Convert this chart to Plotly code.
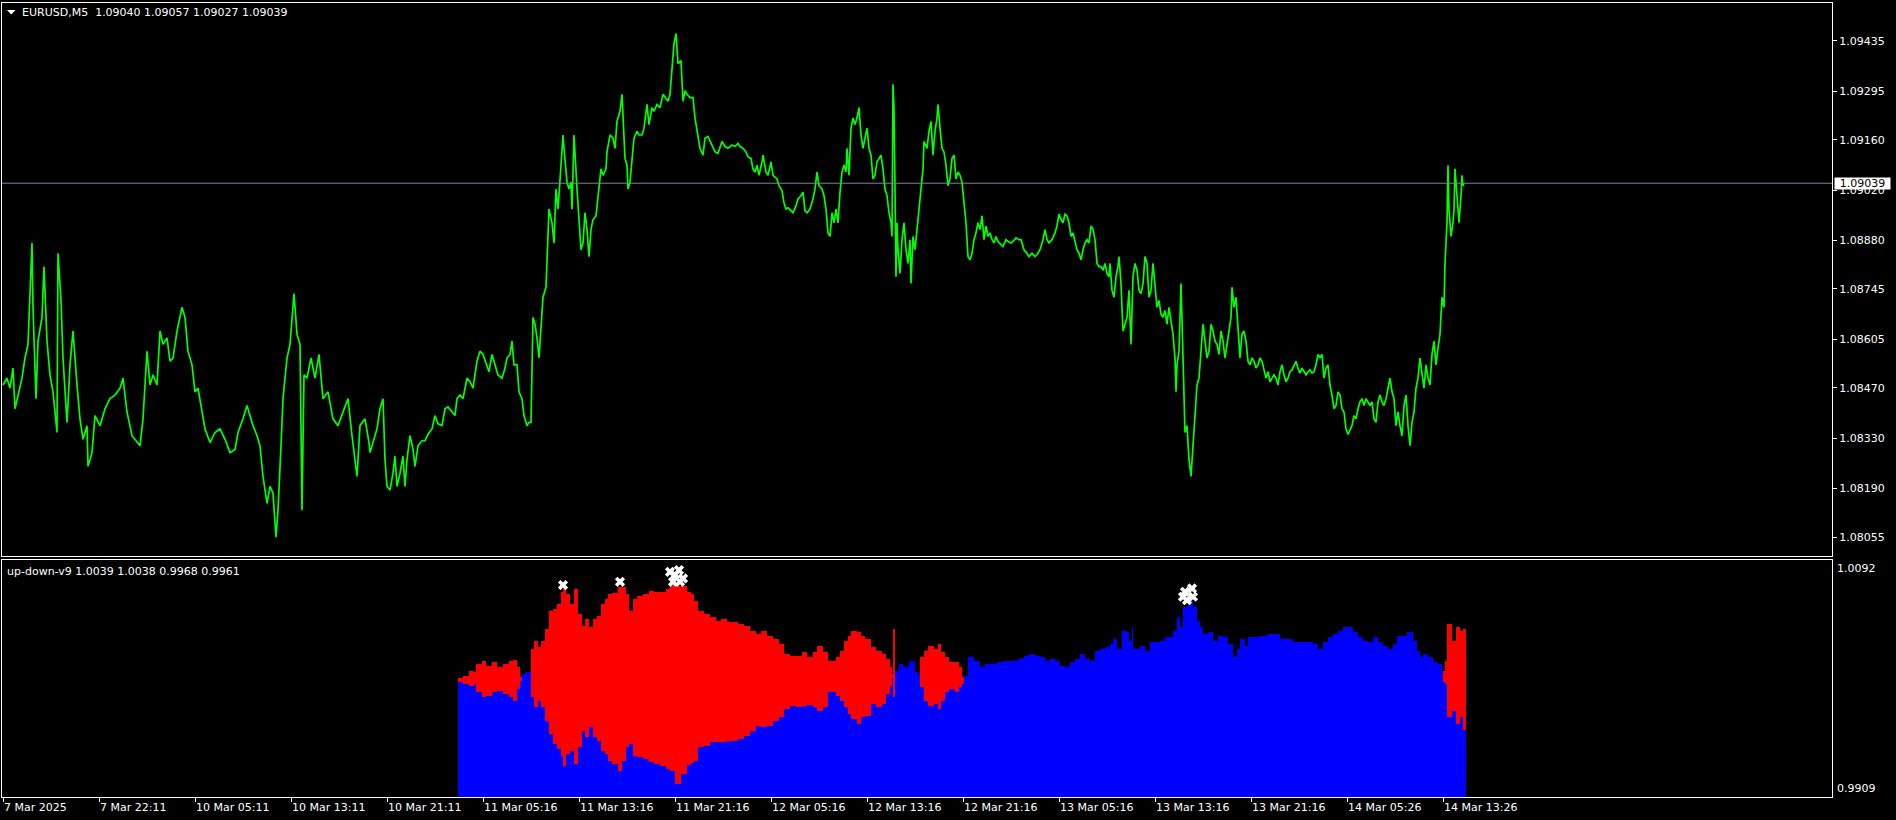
import plotly.graph_objects as go

# ---------------- main panel: EURUSD M5 close line (bar index -> close) ----------------
idx_a = [0, 4, 7, 10, 12, 15, 19, 22, 25, 29,
         30, 33, 35, 39, 41, 44, 47, 50, 54, 55,
         58, 60, 64, 67, 70, 74, 77, 80, 84, 85,
         89, 92, 97, 102, 107, 112, 117, 120, 124, 129,
         134, 137, 140, 144, 147, 150, 154, 157, 160, 164,
         167, 170, 174, 179, 182, 185, 189, 192, 195, 199,
         202, 207, 212, 217, 222, 227, 232, 235, 240, 244,
         247, 250, 254, 257, 260, 264, 267, 270, 273, 275,
         278, 280, 284, 287, 291, 294, 297, 299, 301, 304,
         308, 312, 316, 320, 325, 330, 335, 340, 345, 349,
         354, 357, 362, 366]
close_a = [1.08478, 1.08497, 1.08469, 1.08525, 1.08412, 1.08450, 1.08497, 1.08553, 1.08591, 1.08873,
           1.08694, 1.08440, 1.08600, 1.08666, 1.08807, 1.08600, 1.08506, 1.08459, 1.08346, 1.08844,
           1.08713, 1.08553, 1.08374, 1.08534, 1.08628, 1.08478, 1.08384, 1.08327, 1.08365, 1.08252,
           1.08290, 1.08393, 1.08365, 1.08412, 1.08440, 1.08450, 1.08469, 1.08497, 1.08403, 1.08337,
           1.08318, 1.08309, 1.08384, 1.08572, 1.08478, 1.08506, 1.08478, 1.08628, 1.08591, 1.08609,
           1.08544, 1.08553, 1.08628, 1.08694, 1.08666, 1.08572, 1.08534, 1.08459, 1.08469, 1.08403,
           1.08356, 1.08318, 1.08346, 1.08356, 1.08327, 1.08290, 1.08299, 1.08346, 1.08384, 1.08421,
           1.08393, 1.08365, 1.08337, 1.08309, 1.08224, 1.08149, 1.08196, 1.08177, 1.08055, 1.08130,
           1.08309, 1.08440, 1.08553, 1.08591, 1.08732, 1.08619, 1.08591, 1.08130, 1.08506, 1.08497,
           1.08553, 1.08497, 1.08563, 1.08440, 1.08459, 1.08384, 1.08365, 1.08403, 1.08440, 1.08337,
           1.08224, 1.08365, 1.08384, 1.08318]

idx_b = [367, 370, 374, 377, 380, 382, 384, 387, 390, 392,
         394, 397, 400, 402, 404, 407, 410, 412, 415, 419,
         422, 425, 429, 432, 435, 439, 442, 445, 449, 452,
         454, 457, 460, 464, 467, 470, 474, 477, 480, 484,
         486, 489, 492, 495, 499, 502, 504, 507, 509, 511,
         514, 516, 519, 521, 524, 526, 528, 529, 530, 532,
         534, 536, 539, 540, 543, 544, 546, 549, 551, 553,
         555, 558, 560, 561, 564, 566, 568, 569, 571, 574,
         576, 578, 580, 582, 584, 586, 588, 590, 593, 595,
         598, 600, 603, 604, 607, 610, 612, 614, 617, 619,
         620, 622, 624, 625, 627, 629, 631, 634, 636, 639,
         641, 644, 646, 649, 651, 654, 657, 660, 662, 665,
         667, 669, 671, 673, 675, 678, 680, 682, 684, 687,
         690, 692, 694, 697, 700, 702, 705, 709, 712, 715,
         719, 722, 725, 729, 732, 735]
close_b = [1.08290, 1.08318, 1.08356, 1.08412, 1.08440, 1.08271, 1.08196, 1.08186, 1.08233, 1.08280,
           1.08196, 1.08233, 1.08280, 1.08196, 1.08271, 1.08337, 1.08299, 1.08252, 1.08309, 1.08323,
           1.08323, 1.08341, 1.08356, 1.08393, 1.08370, 1.08365, 1.08412, 1.08417, 1.08403, 1.08393,
           1.08440, 1.08450, 1.08440, 1.08497, 1.08487, 1.08469, 1.08544, 1.08572, 1.08563, 1.08534,
           1.08515, 1.08563, 1.08534, 1.08506, 1.08497, 1.08525, 1.08553, 1.08563, 1.08600, 1.08534,
           1.08534, 1.08459, 1.08440, 1.08393, 1.08365, 1.08374, 1.08374, 1.08591, 1.08666, 1.08647,
           1.08609, 1.08553, 1.08675, 1.08722, 1.08750, 1.08835, 1.08967, 1.08929, 1.08873, 1.09023,
           1.08967, 1.09089, 1.09173, 1.09136, 1.09042, 1.09023, 1.09042, 1.08967, 1.09173, 1.09023,
           1.08929, 1.08854, 1.08873, 1.08957, 1.08910, 1.08835, 1.08910, 1.08938, 1.08948, 1.08995,
           1.09079, 1.09061, 1.09079, 1.09126, 1.09173, 1.09164, 1.09136, 1.09211, 1.09239, 1.09286,
           1.09211, 1.09108, 1.09089, 1.09023, 1.09042, 1.09098, 1.09164, 1.09183, 1.09173, 1.09173,
           1.09192, 1.09258, 1.09202, 1.09249, 1.09239, 1.09258, 1.09249, 1.09286, 1.09277, 1.09267,
           1.09286, 1.09352, 1.09427, 1.09455, 1.09371, 1.09380, 1.09267, 1.09296, 1.09286, 1.09277,
           1.09277, 1.09220, 1.09183, 1.09136, 1.09117, 1.09164, 1.09169, 1.09145, 1.09126, 1.09122,
           1.09155, 1.09141, 1.09136, 1.09145, 1.09141, 1.09150]

idx_c = [737, 740, 743, 745, 748, 750, 752, 754, 756, 759,
         760, 763, 765, 768, 770, 772, 774, 776, 779, 781,
         783, 785, 788, 790, 793, 795, 798, 800, 802, 804,
         807, 810, 812, 814, 816, 819, 821, 823, 825, 827,
         829, 831, 833, 835, 837, 839, 841, 843, 844, 846,
         848, 850, 852, 854, 856, 858, 860, 862, 864, 866,
         868, 870, 872, 874, 876, 878, 880, 882, 884, 886,
         888, 889, 890, 891, 892, 893, 894, 895, 897, 899,
         901, 903, 905, 907, 908, 910, 912, 914, 916, 918,
         920, 921, 924, 926, 928, 930, 932, 934, 935, 937,
         939, 941, 943, 945, 947, 949, 951, 953, 955, 957,
         959, 961, 963, 965, 967, 969, 971, 973, 975, 977,
         979, 981, 983, 985, 987, 989, 991, 993, 995, 998,
         1000, 1003, 1005, 1008, 1010, 1013, 1016, 1018, 1021, 1024,
         1026, 1029, 1032, 1034, 1037, 1040, 1042, 1044, 1046, 1049,
         1052, 1054, 1056, 1058, 1060, 1062, 1064, 1066, 1068, 1070,
         1072, 1074, 1076, 1078, 1080, 1082, 1084, 1086, 1088, 1090,
         1092, 1094, 1096, 1098, 1100, 1102, 1104, 1106]
close_c = [1.09141, 1.09136, 1.09126, 1.09112, 1.09108, 1.09079, 1.09070, 1.09089, 1.09061, 1.09098,
           1.09117, 1.09070, 1.09061, 1.09098, 1.09061, 1.09056, 1.09051, 1.09032, 1.09018, 1.08985,
           1.08967, 1.08971, 1.08962, 1.08957, 1.08976, 1.08995, 1.09004, 1.09014, 1.08962, 1.08957,
           1.08967, 1.08995, 1.09023, 1.09070, 1.09032, 1.09023, 1.09004, 1.08967, 1.08901, 1.08891,
           1.08957, 1.08929, 1.08967, 1.08929, 1.09014, 1.09070, 1.09089, 1.09070, 1.09136, 1.09061,
           1.09192, 1.09220, 1.09202, 1.09220, 1.09249, 1.09173, 1.09136, 1.09164, 1.09192, 1.09136,
           1.09117, 1.09051, 1.09061, 1.09098, 1.09108, 1.09117, 1.09079, 1.09023, 1.09004, 1.08957,
           1.08929, 1.08891, 1.09314, 1.09249, 1.09023, 1.08779, 1.08929, 1.08854, 1.08788, 1.08882,
           1.08929, 1.08854, 1.08816, 1.08882, 1.08760, 1.08891, 1.08854, 1.08910, 1.08948, 1.09023,
           1.09079, 1.09155, 1.09136, 1.09183, 1.09211, 1.09117, 1.09183, 1.09220, 1.09258, 1.09192,
           1.09136, 1.09126, 1.09089, 1.09032, 1.09051, 1.09108, 1.09117, 1.09051, 1.09070, 1.09061,
           1.09042, 1.08985, 1.08929, 1.08835, 1.08826, 1.08844, 1.08882, 1.08901, 1.08929, 1.08910,
           1.08948, 1.08882, 1.08920, 1.08891, 1.08901, 1.08882, 1.08873, 1.08891, 1.08877, 1.08868,
           1.08863, 1.08882, 1.08877, 1.08873, 1.08877, 1.08887, 1.08882, 1.08882, 1.08854, 1.08844,
           1.08835, 1.08844, 1.08835, 1.08840, 1.08854, 1.08882, 1.08910, 1.08882, 1.08873, 1.08882,
           1.08901, 1.08920, 1.08953, 1.08938, 1.08929, 1.08953, 1.08948, 1.08929, 1.08891, 1.08901,
           1.08873, 1.08854, 1.08844, 1.08826, 1.08854, 1.08873, 1.08882, 1.08873, 1.08920, 1.08910,
           1.08882, 1.08816, 1.08807, 1.08807, 1.08797, 1.08816, 1.08788, 1.08779]

idx_d = [1107, 1109, 1111, 1113, 1115, 1116, 1118, 1120, 1122, 1124,
         1126, 1128, 1130, 1132, 1134, 1136, 1138, 1140, 1142, 1144,
         1146, 1148, 1150, 1152, 1154, 1156, 1158, 1160, 1162, 1164,
         1166, 1168, 1170, 1172, 1173, 1174, 1176, 1178, 1180, 1181,
         1182, 1184, 1186, 1188, 1190, 1192, 1194, 1196, 1198, 1200,
         1202, 1204, 1206, 1208, 1210, 1212, 1214, 1216, 1218, 1220,
         1222, 1224, 1226, 1228, 1229, 1231, 1233, 1235, 1237, 1239,
         1241, 1243, 1245, 1247, 1249, 1251, 1253, 1255, 1257, 1259,
         1261, 1263, 1265, 1267, 1269, 1271, 1273, 1275, 1277, 1279,
         1281, 1283, 1285, 1287, 1289, 1291, 1293, 1295, 1297, 1299,
         1301, 1303, 1305, 1307, 1309, 1311, 1313, 1315, 1317, 1319,
         1321, 1323, 1325, 1327, 1329, 1331, 1333, 1335, 1337, 1339,
         1341, 1343, 1345, 1347, 1349, 1351, 1353, 1355, 1357, 1359,
         1361, 1363, 1365, 1367, 1369, 1371, 1373, 1375, 1377, 1379,
         1381, 1383, 1385, 1387, 1389, 1391, 1393, 1395, 1397, 1399,
         1401, 1403, 1405, 1407, 1409, 1411, 1413, 1415, 1417, 1419,
         1421, 1423, 1425, 1427, 1429, 1431, 1433, 1435, 1437, 1439,
         1441, 1442, 1444, 1445, 1446, 1448, 1450, 1451, 1452, 1454,
         1455, 1456, 1458, 1459, 1460, 1461]
close_d = [1.08816, 1.08741, 1.08722, 1.08779, 1.08807, 1.08835, 1.08760, 1.08628, 1.08647, 1.08666,
           1.08741, 1.08591, 1.08779, 1.08816, 1.08797, 1.08741, 1.08732, 1.08760, 1.08835, 1.08816,
           1.08722, 1.08741, 1.08816, 1.08741, 1.08694, 1.08713, 1.08675, 1.08666, 1.08685, 1.08647,
           1.08694, 1.08656, 1.08619, 1.08553, 1.08459, 1.08534, 1.08572, 1.08760, 1.08553, 1.08412,
           1.08346, 1.08365, 1.08271, 1.08224, 1.08318, 1.08393, 1.08478, 1.08497, 1.08572, 1.08647,
           1.08600, 1.08553, 1.08572, 1.08647, 1.08628, 1.08600, 1.08591, 1.08563, 1.08628, 1.08600,
           1.08553, 1.08591, 1.08638, 1.08666, 1.08750, 1.08694, 1.08722, 1.08638, 1.08553, 1.08619,
           1.08628, 1.08600, 1.08544, 1.08534, 1.08553, 1.08544, 1.08525, 1.08534, 1.08553, 1.08544,
           1.08515, 1.08497, 1.08515, 1.08487, 1.08497, 1.08506, 1.08497, 1.08478, 1.08515, 1.08534,
           1.08506, 1.08487, 1.08497, 1.08515, 1.08520, 1.08534, 1.08544, 1.08525, 1.08511, 1.08525,
           1.08515, 1.08506, 1.08515, 1.08520, 1.08511, 1.08515, 1.08534, 1.08563, 1.08553, 1.08563,
           1.08497, 1.08525, 1.08534, 1.08478, 1.08450, 1.08412, 1.08421, 1.08459, 1.08450, 1.08412,
           1.08403, 1.08356, 1.08341, 1.08356, 1.08365, 1.08393, 1.08384, 1.08412, 1.08431, 1.08440,
           1.08421, 1.08440, 1.08431, 1.08421, 1.08431, 1.08384, 1.08374, 1.08431, 1.08450, 1.08431,
           1.08421, 1.08440, 1.08469, 1.08497, 1.08459, 1.08440, 1.08365, 1.08403, 1.08365, 1.08337,
           1.08421, 1.08450, 1.08365, 1.08309, 1.08374, 1.08403, 1.08469, 1.08497, 1.08553, 1.08515,
           1.08469, 1.08534, 1.08497, 1.08478, 1.08563, 1.08600, 1.08534, 1.08581, 1.08619, 1.08722,
           1.08694, 1.08816, 1.08929, 1.09089, 1.08967, 1.08891, 1.08929, 1.08967, 1.09079, 1.09004,
           1.08967, 1.08929, 1.09004, 1.09061, 1.09032, 1.09039]

# ---------------- indicator panel: up-down-v9 ----------------
red1_idx = [455, 460, 466, 471, 473, 479, 483, 489, 494, 500, 506, 510, 514, 517]
red1_hi = [1.00009, 1.00030, 1.00068, 1.00055, 1.00119, 1.00145, 1.00107, 1.00132, 1.00094, 1.00119,
           1.00145, 1.00150, 1.00094, 1.00017]
red1_lo = [0.99978, 0.99965, 0.99952, 0.99965, 0.99901, 0.99863, 0.99875, 0.99901, 0.99914, 0.99888,
           0.99863, 0.99837, 0.99927, 0.99986]

blue1_idx = [519, 523]
blue1_val = [1.00042, 1.00055]

red2_idx = [528, 531, 535, 538, 542, 546, 550, 554, 558, 560,
            563, 567, 571, 575, 579, 582, 586, 590, 594, 598,
            602, 605, 609, 615, 619, 623, 626, 630, 634, 640,
            646, 651, 657, 663, 667, 672, 678, 684, 688, 691,
            695, 701, 707, 713, 718, 724, 730, 735, 741, 747,
            753, 758, 764, 770, 776, 781, 787, 793, 799, 804,
            810, 814, 820, 825, 829, 833, 837, 841, 845, 848,
            854, 858, 862, 868, 873, 879, 883, 887, 889, 890]
red2_hi = [1.00235, 1.00299, 1.00248, 1.00299, 1.00389, 1.00530, 1.00543, 1.00581, 1.00671, 1.00710,
           1.00658, 1.00581, 1.00697, 1.00504, 1.00415, 1.00466, 1.00402, 1.00466, 1.00492, 1.00581,
           1.00620, 1.00658, 1.00666, 1.00710, 1.00710, 1.00658, 1.00530, 1.00620, 1.00646, 1.00658,
           1.00684, 1.00671, 1.00671, 1.00697, 1.00736, 1.00723, 1.00723, 1.00671, 1.00658, 1.00607,
           1.00530, 1.00504, 1.00479, 1.00453, 1.00466, 1.00440, 1.00440, 1.00427, 1.00415, 1.00376,
           1.00350, 1.00376, 1.00338, 1.00312, 1.00273, 1.00196, 1.00184, 1.00184, 1.00209, 1.00171,
           1.00209, 1.00261, 1.00209, 1.00145, 1.00145, 1.00171, 1.00222, 1.00299, 1.00338, 1.00376,
           1.00363, 1.00338, 1.00312, 1.00248, 1.00222, 1.00196, 1.00158, 1.00094, 1.00042, 1.00389]
red2_lo = [0.99863, 0.99786, 0.99837, 0.99786, 0.99683, 0.99580, 0.99503, 0.99465, 0.99413, 0.99336,
           0.99426, 0.99452, 0.99349, 0.99478, 0.99606, 0.99555, 0.99632, 0.99555, 0.99529, 0.99452,
           0.99426, 0.99375, 0.99349, 0.99298, 0.99375, 0.99478, 0.99503, 0.99413, 0.99401, 0.99388,
           0.99362, 0.99349, 0.99336, 0.99311, 0.99298, 0.99195, 0.99272, 0.99344, 0.99354, 0.99375,
           0.99478, 0.99490, 0.99516, 0.99516, 0.99516, 0.99529, 0.99529, 0.99542, 0.99567, 0.99606,
           0.99644, 0.99632, 0.99644, 0.99683, 0.99709, 0.99773, 0.99793, 0.99786, 0.99798, 0.99806,
           0.99786, 0.99760, 0.99786, 0.99901, 0.99901, 0.99875, 0.99837, 0.99786, 0.99734, 0.99696,
           0.99657, 0.99709, 0.99721, 0.99811, 0.99786, 0.99811, 0.99888, 0.99952, 1.00004, 0.99863]

blue2_idx = [892, 896, 900, 906, 912, 915]
blue2_val = [1.00068, 1.00119, 1.00094, 1.00145, 1.00055, 1.00042]

red3_idx = [917, 921, 925, 931, 935, 938, 942, 946, 952, 956, 959]
red3_hi = [1.00171, 1.00222, 1.00261, 1.00235, 1.00273, 1.00209, 1.00171, 1.00132, 1.00132, 1.00094, 1.00017]
red3_lo = [0.99940, 0.99837, 0.99798, 0.99811, 0.99773, 0.99837, 0.99901, 0.99927, 0.99901, 0.99940, 0.99965]

blue3_idx = [961, 965, 971, 977, 982, 988, 994, 1000, 1007, 1015,
             1021, 1026, 1032, 1037, 1042, 1047, 1052, 1057, 1062, 1067,
             1072, 1077, 1082, 1087, 1092, 1097, 1102, 1107, 1110, 1114,
             1119, 1124, 1126, 1129, 1130, 1132, 1137, 1142, 1147, 1152,
             1157, 1162, 1167, 1170, 1174, 1177, 1180, 1185, 1190, 1194,
             1197, 1200, 1205, 1210, 1215, 1220, 1225, 1230, 1234, 1237,
             1242, 1245, 1250, 1257, 1264, 1270, 1277, 1284, 1290, 1297,
             1304, 1310, 1315, 1320, 1325, 1330, 1335, 1340, 1345, 1350,
             1355, 1360, 1365, 1370, 1375, 1380, 1385, 1390, 1394, 1399,
             1404, 1407, 1410, 1414, 1417, 1420, 1425, 1430, 1435, 1439]
blue3_val = [1.00030, 1.00171, 1.00145, 1.00094, 1.00119, 1.00119, 1.00132, 1.00145, 1.00145, 1.00158,
             1.00184, 1.00196, 1.00184, 1.00171, 1.00145, 1.00158, 1.00145, 1.00107, 1.00094, 1.00132,
             1.00158, 1.00196, 1.00158, 1.00145, 1.00222, 1.00235, 1.00248, 1.00273, 1.00312, 1.00235,
             1.00376, 1.00363, 1.00299, 1.00402, 1.00235, 1.00235, 1.00261, 1.00222, 1.00286, 1.00286,
             1.00299, 1.00325, 1.00325, 1.00376, 1.00479, 1.00402, 1.00556, 1.00607, 1.00556, 1.00453,
             1.00402, 1.00350, 1.00363, 1.00299, 1.00338, 1.00325, 1.00273, 1.00171, 1.00235, 1.00312,
             1.00261, 1.00325, 1.00325, 1.00338, 1.00350, 1.00350, 1.00312, 1.00312, 1.00286, 1.00286,
             1.00286, 1.00273, 1.00235, 1.00286, 1.00325, 1.00350, 1.00376, 1.00402, 1.00402, 1.00363,
             1.00325, 1.00299, 1.00286, 1.00325, 1.00286, 1.00261, 1.00235, 1.00273, 1.00338, 1.00338,
             1.00363, 1.00363, 1.00299, 1.00222, 1.00171, 1.00196, 1.00171, 1.00132, 1.00119, 1.00068]

red4_idx = [1440, 1442, 1444, 1449, 1453, 1457, 1460]
red4_hi = [1.00068, 1.00145, 1.00427, 1.00299, 1.00402, 1.00376, 1.00390]
red4_lo = [0.99978, 0.99965, 0.99709, 0.99760, 0.99657, 0.99709, 0.99610]
last_bar_end = 1463

mark_idx = [560, 617, 667, 670, 672, 676, 677, 680, 1180, 1182, 1184, 1189, 1190]
mark_val = [1.00723, 1.00748, 1.00825, 1.00748, 1.00800, 1.00838, 1.00748, 1.00774,
            1.00633, 1.00671, 1.00607, 1.00697, 1.00633]

# ---------------- axis labels ----------------
time_tick_idx = [0, 96, 192, 288, 384, 480, 576, 672, 768, 864, 960, 1056, 1152, 1248, 1344, 1440]
time_tick_text = ["7 Mar 2025", "7 Mar 22:11", "10 Mar 05:11", "10 Mar 13:11", "10 Mar 21:11",
                  "11 Mar 05:16", "11 Mar 13:16", "11 Mar 21:16", "12 Mar 05:16", "12 Mar 13:16",
                  "12 Mar 21:16", "13 Mar 05:16", "13 Mar 13:16", "13 Mar 21:16", "14 Mar 05:26",
                  "14 Mar 13:26"]
price_tick_vals = [1.09435, 1.09295, 1.09160, 1.09020, 1.08880, 1.08745, 1.08605, 1.08470, 1.08330, 1.08190, 1.08055]
price_tick_text = ["1.09435", "1.09295", "1.09160", "1.09020", "1.08880", "1.08745", "1.08605", "1.08470",
                   "1.08330", "1.08190", "1.08055"]
last_price = 1.09039
chart_title = "EURUSD,M5  1.09040 1.09057 1.09027 1.09039"
ind_title = "up-down-v9 1.0039 1.0038 0.9968 0.9961"
ind_max_label, ind_min_label = "1.0092", "0.9909"
ind_range = [0.9909, 1.0092]
price_range = [1.08004, 1.09540]

# ---------------- assemble ----------------
price_idx = idx_a + idx_b + idx_c + idx_d
price_close = close_a + close_b + close_c + close_d
assert len(price_idx) == len(price_close)

segs = [
    (red1_idx, red1_hi, red1_lo), (blue1_idx, None, blue1_val), (red2_idx, red2_hi, red2_lo),
    (blue2_idx, None, blue2_val), (red3_idx, red3_hi, red3_lo), (blue3_idx, None, blue3_val),
    (red4_idx, red4_hi, red4_lo),
]
ind_x, ind_blue, ind_hi, ind_lo = [], [], [], []
for xs, hi, lo in segs:
    assert len(xs) == len(lo) and (hi is None or len(hi) == len(xs))
    for k, xv in enumerate(xs):
        ind_x.append(xv)
        ind_blue.append(lo[k])
        ind_hi.append(None if hi is None else hi[k])
        ind_lo.append(None if hi is None else lo[k])
widths = [ind_x[i + 1] - ind_x[i] for i in range(len(ind_x) - 1)] + [last_bar_end - ind_x[-1]]

red_x, red_base, red_h, red_w = [], [], [], []
for k, xv in enumerate(ind_x):
    if ind_hi[k] is not None:
        red_x.append(xv)
        red_base.append(ind_lo[k])
        red_h.append(ind_hi[k] - ind_lo[k])
        red_w.append(widths[k])

# ---------------- figure ----------------
W, H = 1896, 820
L, R, T, B = 2, 64, 3, 23
plot_h = H - T - B
main_bottom_px = 555.5
ind_top_px = 559.5
main_dom = [(H - B - main_bottom_px) / plot_h, 1.0]
ind_dom = [0.0, (H - B - ind_top_px) / plot_h]
FONT = "DejaVu Sans, Verdana, sans-serif"
FS = 11

fig = go.Figure()
fig.add_trace(go.Scatter(x=price_idx, y=price_close, mode="lines",
                         line=dict(color="#00ff00", width=1.7),
                         xaxis="x", yaxis="y", hoverinfo="skip", showlegend=False))
fig.add_trace(go.Bar(x=ind_x, y=ind_blue, width=widths, offset=0,
                     marker=dict(color="#0000ff", line=dict(width=0)),
                     xaxis="x2", yaxis="y2", hoverinfo="skip", showlegend=False))
fig.add_trace(go.Bar(x=red_x, y=red_h, base=red_base, width=red_w, offset=0,
                     marker=dict(color="#ff0000", line=dict(width=0)),
                     xaxis="x2", yaxis="y2", hoverinfo="skip", showlegend=False))
fig.add_trace(go.Scatter(x=mark_idx, y=mark_val, mode="markers",
                         marker=dict(symbol="x", size=9, color="white", line=dict(width=0)),
                         xaxis="x2", yaxis="y2", hoverinfo="skip", showlegend=False))

axis_common = dict(showgrid=False, zeroline=False, showline=True, linecolor="white",
                   linewidth=1, mirror=True)
fig.update_layout(
    width=W, height=H,
    margin=dict(l=L, r=R, t=T, b=B, pad=0),
    paper_bgcolor="black", plot_bgcolor="black",
    font=dict(family=FONT, size=FS, color="white"),
    barmode="overlay", bargap=0,
    showlegend=False,
    xaxis=dict(domain=[0, 1], anchor="y", range=[-1, 1829], showticklabels=False, ticks="", **axis_common),
    yaxis=dict(domain=main_dom, anchor="x", range=price_range, side="right",
               tickvals=price_tick_vals, ticktext=price_tick_text, ticks="outside", ticklen=4,
               tickcolor="white", tickfont=dict(color="white", size=FS, family=FONT), **axis_common),
    xaxis2=dict(domain=[0, 1], anchor="y2", range=[-1, 1829], tickvals=time_tick_idx, ticks="outside",
                ticklen=4, tickcolor="white", showticklabels=False, **axis_common),
    yaxis2=dict(domain=ind_dom, anchor="x2", range=ind_range, showticklabels=False, ticks="", **axis_common),
)


def px_to_paper_y(py):
    return (H - B - py) / plot_h


def px_to_paper_x(px):
    return (px - L) / (W - L - R)


shapes = [
    dict(type="line", xref="paper", yref="y", x0=0, x1=1, y0=last_price, y1=last_price,
         line=dict(color="#778899", width=1), layer="above"),
    dict(type="path", xref="paper", yref="paper", fillcolor="white", line=dict(width=0),
         path="M {:.5f},{:.5f} L {:.5f},{:.5f} L {:.5f},{:.5f} Z".format(
             px_to_paper_x(7), px_to_paper_y(10), px_to_paper_x(15.5), px_to_paper_y(10),
             px_to_paper_x(11.25), px_to_paper_y(14.5))),
]
fig.update_layout(shapes=shapes)

txt_font = dict(color="white", size=FS, family=FONT)
ann = []
ann.append(dict(text=chart_title.replace("  ", "&nbsp;&nbsp;"), xref="paper", yref="paper",
                x=px_to_paper_x(20), y=px_to_paper_y(12.5), xanchor="left", yanchor="middle",
                showarrow=False, font=txt_font))
ann.append(dict(text=ind_title, xref="paper", yref="paper",
                x=px_to_paper_x(5), y=px_to_paper_y(571.5), xanchor="left", yanchor="middle",
                showarrow=False, font=txt_font))
ann.append(dict(text=ind_max_label, xref="paper", yref="paper", x=1, xshift=3,
                y=px_to_paper_y(568), xanchor="left", yanchor="middle",
                showarrow=False, font=txt_font))
ann.append(dict(text=ind_min_label, xref="paper", yref="paper", x=1, xshift=3,
                y=px_to_paper_y(788), xanchor="left", yanchor="middle",
                showarrow=False, font=txt_font))
ann.append(dict(text=f"{last_price:.5f}", xref="paper", yref="y", x=1, xshift=2,
                y=last_price, xanchor="left", yanchor="middle", showarrow=False,
                bgcolor="white", borderpad=0, width=55, height=11, align="center",
                font=dict(color="black", size=FS, family=FONT)))
for tx, tt in zip(time_tick_idx, time_tick_text):
    ann.append(dict(text=tt, xref="x2", yref="paper", x=tx, xshift=-1, y=0, yshift=-10,
                    xanchor="left", yanchor="middle", showarrow=False, font=txt_font))
fig.update_layout(annotations=ann)

fig.write_html("out.html", config={"displayModeBar": False},
               post_script="document.body.style.margin='0';document.body.style.background='black';")
